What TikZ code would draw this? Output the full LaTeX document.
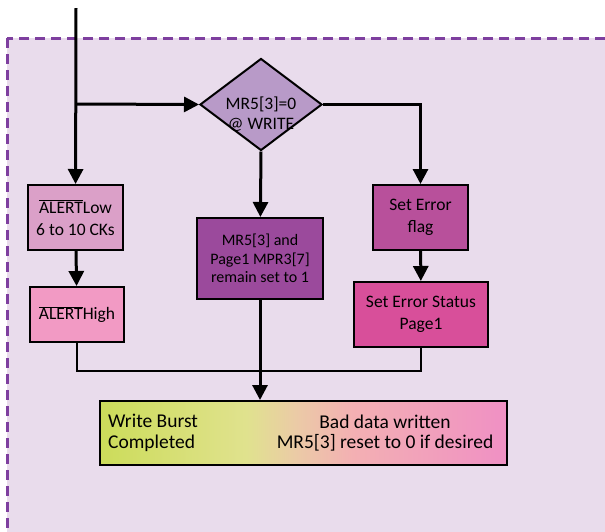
\documentclass[tikz,border=0pt]{standalone}
\usepackage{fontspec}
\setmainfont{Carlito}
\usetikzlibrary{arrows.meta, positioning, shapes.geometric}

\definecolor{FrameBg}{HTML}{E9DCEC}
\definecolor{FrameLine}{HTML}{7E3F9F}
\definecolor{LowFill}{HTML}{DBA0C8}
\definecolor{HighFill}{HTML}{F29AC4}
\definecolor{FlagFill}{HTML}{B8509B}
\definecolor{StatusFill}{HTML}{D84F9A}
\definecolor{KeepFill}{HTML}{9B4A9C}
\definecolor{TestFill}{HTML}{B89AC8}
\definecolor{BurstGreen}{HTML}{CCDC5A}
\definecolor{BurstLight}{HTML}{E0E28E}
\definecolor{BurstBeige}{HTML}{EBCBA6}
\definecolor{BurstRose}{HTML}{F3B0B3}
\definecolor{BurstPink}{HTML}{F090C4}

\pgfdeclarehorizontalshading{burstshade}{100bp}{color(0bp)=(BurstGreen);
  color(25bp)=(BurstGreen); color(43bp)=(BurstLight); color(49bp)=(BurstBeige);
  color(56bp)=(BurstRose); color(75bp)=(BurstPink); color(100bp)=(BurstPink)}

\newcommand{\alertbar}{\ensuremath{\overline{\mbox{ALERT}}}}

\tikzset{
  box/.style={draw, line width=2pt, align=center, inner sep=2pt,
              font=\fontsize{17.5}{22}\selectfont},
  flow/.style={-{Triangle[width=15pt,length=15pt]}, line width=3pt},
  joinline/.style={line width=2pt}
}

\begin{document}
\begin{tikzpicture}[x=1pt, y=-1pt]
  \useasboundingbox (0,0) rectangle (605,531);
  \clip (0,0) rectangle (605,531);
  \fill[white] (0,0) rectangle (605,531);
  \draw[FrameLine, fill=FrameBg, line width=3pt, dash pattern=on 10pt off 6pt]
    (7,38) rectangle (640,560);

  \coordinate (top) at (76,8);
  \coordinate (split) at (76,104);
  \coordinate (merge) at (260,371);

  \node[diamond, draw, line width=2pt, fill=TestFill, aspect=1.33,
        minimum width=122pt, minimum height=92pt, inner sep=0pt] (test)
    at (261,104.5) {};
  \node[align=center, inner sep=0pt, font=\fontsize{17.5}{20}\selectfont]
    (testtext) at ([yshift=-10pt]test.center) {MR5[3]=0\\@ WRITE};

  \node[box, fill=LowFill, minimum width=95pt, minimum height=65pt] (low)
    at (75.5,217.5) {\alertbar Low\\6 to 10 CKs};
  \node[box, fill=HighFill, minimum width=94pt, minimum height=55pt] (high)
    at (77,314.5) {\alertbar High};
  \node[box, fill=KeepFill, minimum width=126pt, minimum height=81pt,
        font=\fontsize{16}{18.5}\selectfont] (keep)
    at (260,258.5) {MR5[3] and\\Page1 MPR3[7]\\remain set to 1};
  \node[box, fill=FlagFill, minimum width=95pt, minimum height=65pt] (flag)
    at (420.5,217.5) {Set Error\\flag};
  \node[box, fill=StatusFill, minimum width=134pt, minimum height=65pt] (status)
    at (421,314.5) {Set Error Status\\Page1};
  \node[box, shading=burstshade, minimum width=407pt, minimum height=64pt] (burst)
    at (303.5,433) {};
  \node[align=left, anchor=west, inner sep=0pt,
        font=\fontsize{19.5}{20.5}\selectfont] (done)
    at (108,433) {Write Burst\\Completed};
  \node[align=center, inner sep=0pt,
        font=\fontsize{19.5}{20.5}\selectfont] (bad)
    at (385,433) {Bad data written\\MR5[3] reset to 0 if desired};

  \draw[flow] (top) -- (low);
  \draw[flow] (split) -- (test.west);
  \draw[flow] (test.east) -| (flag.north);
  \draw[flow] (test.south) -- (keep);
  \draw[flow] (low) -- (high);
  \draw[flow] (flag) -- (status);
  \draw[joinline] (high.south) |- (merge) -| (status.south);
  \draw[flow] (keep.south) -- (keep.south |- burst.north);
\end{tikzpicture}
\end{document}
